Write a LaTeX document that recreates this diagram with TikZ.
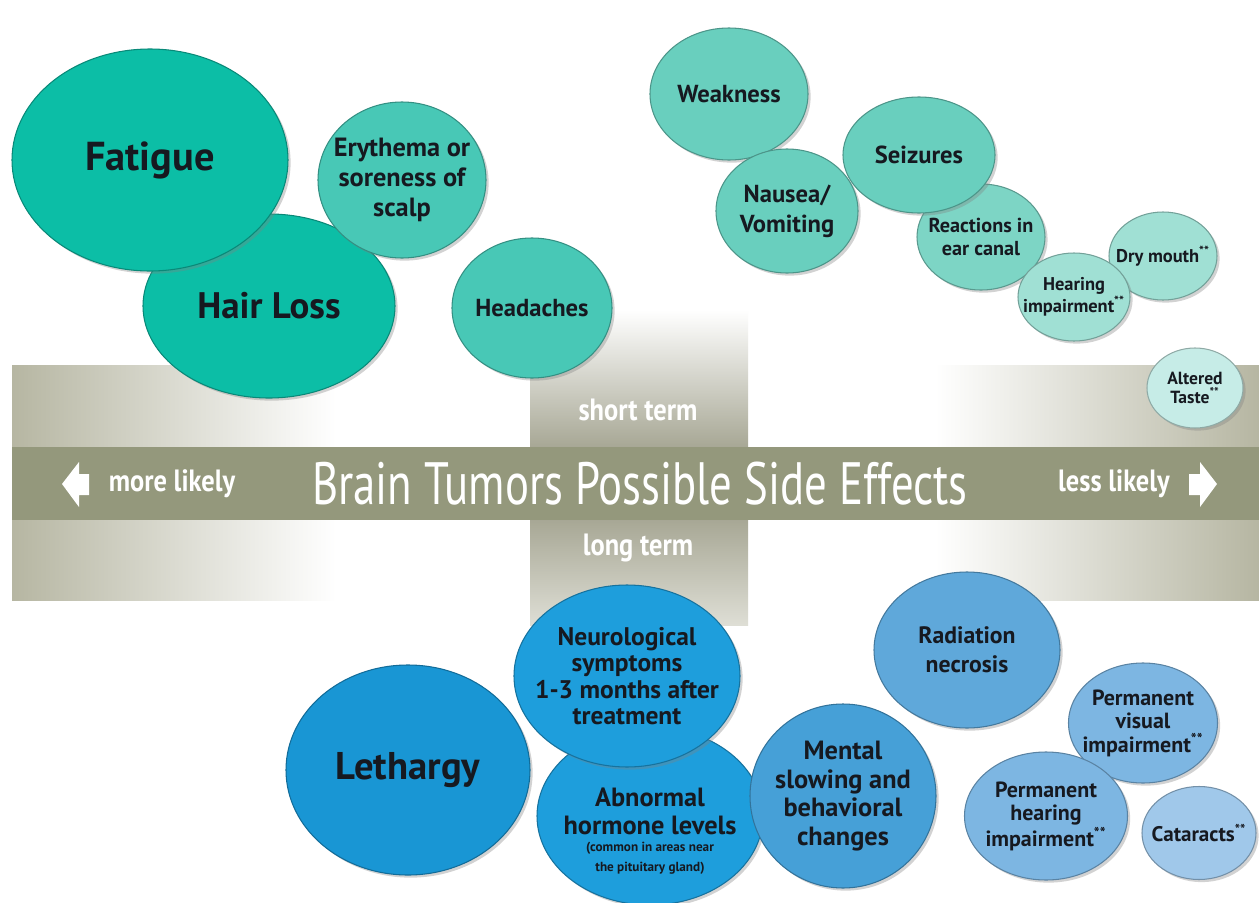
\documentclass[tikz,border=0pt]{standalone}
\usepackage{fontspec}
\setmainfont{PT Sans}
\newfontfamily\condfont[FakeStretch=0.86]{PT Sans}
\newfontfamily\titlefont[FakeStretch=0.75]{PT Sans}
\usetikzlibrary{shapes.geometric,shadows}
\definecolor{xTealA}{RGB}{12,190,166}
\definecolor{xTealB}{RGB}{72,200,182}
\definecolor{xTealC}{RGB}{105,207,190}
\definecolor{xTealD}{RGB}{125,213,197}
\definecolor{xTealE}{RGB}{160,224,212}
\definecolor{xTealF}{RGB}{198,236,231}
\definecolor{xBlueA}{RGB}{25,150,212}
\definecolor{xBlueB}{RGB}{30,158,220}
\definecolor{xBlueC}{RGB}{70,160,215}
\definecolor{xBlueD}{RGB}{95,168,218}
\definecolor{xBlueE}{RGB}{125,182,226}
\definecolor{xBlueF}{RGB}{160,200,234}
\definecolor{xInk}{RGB}{22,25,32}
\definecolor{xBandDark}{RGB}{148,152,124}
\definecolor{xBandLight}{RGB}{182,182,162}
\pgfdeclarehorizontalshading{xSideFade}{100bp}{color(0bp)=(xBandLight); color(25bp)=(xBandLight); color(38bp)=(white); color(62bp)=(white); color(75bp)=(xBandLight); color(100bp)=(xBandLight)}

\tikzset{
    bub/.style n args={3}{
        ellipse, draw=#3!72!black, fill=#3, line width=0.6pt,
        inner sep=0pt, minimum width=#1*0.02cm, minimum height=#2*0.02cm,
        drop shadow={shadow xshift=1.5pt, shadow yshift=-1.5pt, opacity=0.35}
    },
    sz/.style 2 args={align=center, text=xInk, inner sep=0pt,
        font=\bfseries\fontsize{#1}{#2}\selectfont},
    bandtxt/.style={text=white, font=\condfont\bfseries\fontsize{17.5}{19}\selectfont}
}

\begin{document}
\begin{tikzpicture}[x=0.02cm,y=-0.02cm]

    % -------------------------------------------------
    % Page and background bands
    % -------------------------------------------------
    \fill[white] (0,0) rectangle (1259,903);
    \useasboundingbox (0,0) rectangle (1259,903);

    \shade[shading=xSideFade] (12,365) rectangle (1259,600);
    \shade[top color=white, bottom color=xBandLight!92!black] (530,310) rectangle (748,447);
    \shade[top color=xBandLight!92!black, bottom color=xBandLight!45] (530,520) rectangle (748,625);
    \fill[xBandDark] (12,447) rectangle (1259,520);

    % -------------------------------------------------
    % Band texts and arrows
    % -------------------------------------------------
    \node[text=white, font=\titlefont\fontsize{34}{36}\selectfont] (title) at (640,484)
        {Brain Tumors Possible Side Effects};
    \node[bandtxt] (morelikely) at (172,484) {more likely};
    \node[bandtxt] (lesslikely) at (1114,484) {less likely};
    \node[bandtxt] (shortterm) at (638,410) {short term};
    \node[bandtxt] (longterm) at (638,548) {long term};

    \fill[white] (62,484) -- (79,462) -- (79,474) -- (89,474) -- (89,495) -- (79,495) -- (79,507) -- cycle;
    \fill[white] (1217,484) -- (1200,462) -- (1200,474) -- (1189,474) -- (1189,495) -- (1200,495) -- (1200,507) -- cycle;

    % -------------------------------------------------
    % Short term side effects (teal)
    % -------------------------------------------------
    \node[bub={252}{184}{xTealA}, label={[sz={21}{23}, name=hair-t]center:Hair Loss}] (hair) at (269,306) {};
    \node[bub={276}{222}{xTealA}, label={[sz={23}{25}, name=fatigue-t]center:Fatigue}] (fatigue) at (150,160) {};
    \node[bub={168}{156}{xTealB}, label={[sz={15}{17}, name=erythema-t]center:Erythema or\\soreness of\\scalp}] (erythema) at (402,180) {};
    \node[bub={160}{140}{xTealB}, label={[sz={14}{16}, name=headaches-t]center:Headaches}] (headaches) at (532,308) {};
    \node[bub={158}{132}{xTealC}, label={[sz={14}{16}, name=weakness-t]center:Weakness}] (weakness) at (729,94) {};
    \node[bub={142}{124}{xTealC}, label={[sz={14}{17}, name=nausea-t]center:Nausea/\\Vomiting}] (nausea) at (787,211) {};
    \node[bub={128}{106}{xTealD}, label={[sz={11.5}{13.5}, name=reactions-t]center:Reactions in\\ear canal}] (reactions) at (981,237) {};
    \node[bub={152}{116}{xTealC}, label={[sz={14}{16}, name=seizures-t]center:Seizures}] (seizures) at (919,155) {};
    \node[bub={108}{88}{xTealE}, label={[sz={10.5}{12}, name=drymouth-t]center:Dry mouth\textsuperscript{**}}] (drymouth) at (1163,256) {};
    \node[bub={112}{88}{xTealE}, label={[sz={10.5}{11.5}, name=hearing-t]center:Hearing\\impairment\textsuperscript{**}}] (hearing) at (1074,297) {};
    \node[bub={96}{80}{xTealF}, label={[sz={10}{10.5}, name=taste-t]center:Altered\\Taste\textsuperscript{**}}] (taste) at (1195,388) {};

    % -------------------------------------------------
    % Long term side effects (blue)
    % -------------------------------------------------
    \node[bub={244}{210}{xBlueA}, label={[sz={22}{24}, name=lethargy-t]center:Lethargy}] (lethargy) at (408,770) {};
    \node[bub={226}{178}{xBlueB}, label={[sz={15}{16}, name=hormone-t, yshift=-0.3cm]center:Abnormal\\hormone levels\\[-6.5pt]\fontsize{7.5}{9}\selectfont (common in areas near\\[-4.5pt]\fontsize{7.5}{9}\selectfont the pituitary gland)}] (hormone) at (650,816) {};
    \node[bub={226}{182}{xBlueB}, label={[sz={14.5}{15}, name=neuro-t]center:Neurological\\symptoms\\1-3 months after\\treatment}] (neuro) at (627,676) {};
    \node[bub={186}{184}{xBlueC}, label={[sz={15}{16.2}, name=mental-t]center:Mental\\slowing and\\behavioral\\changes}] (mental) at (843,796) {};
    \node[bub={186}{156}{xBlueD}, label={[sz={13.5}{16.5}, name=necrosis-t]center:Radiation\\necrosis}] (necrosis) at (967,650) {};
    \node[bub={149}{120}{xBlueE}, label={[sz={12.5}{13.4}, name=visual-t]center:Permanent\\visual\\impairment\textsuperscript{**}}] (visual) at (1143,723) {};
    \node[bub={163}{128}{xBlueE}, label={[sz={12.5}{13.4}, name=permhear-t]center:Permanent\\hearing\\impairment\textsuperscript{**}}] (permhear) at (1046,816) {};
    \node[bub={114}{93}{xBlueF}, label={[sz={12}{13}, name=cataracts-t]center:Cataracts\textsuperscript{**}}] (cataracts) at (1199,833) {};

\end{tikzpicture}
\end{document}
